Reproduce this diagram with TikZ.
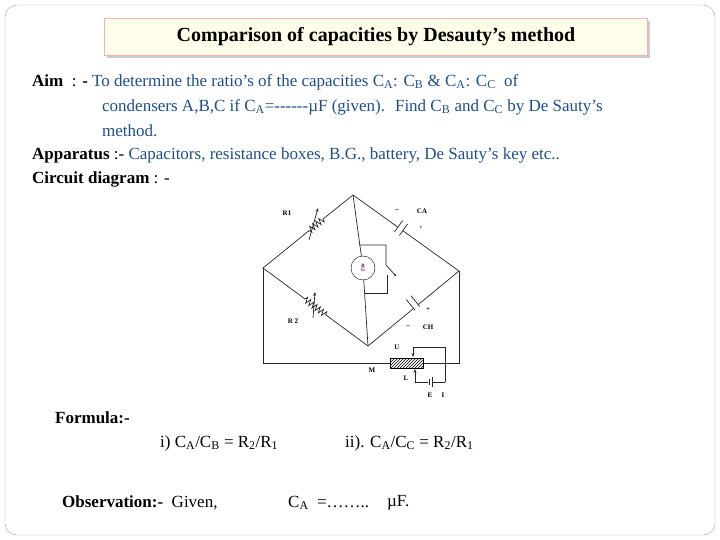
\documentclass[tikz,border=0pt]{standalone}
\usepackage{fontspec}
\setmainfont{Liberation Serif}
\usetikzlibrary{shadows,arrows.meta,patterns,decorations.pathmorphing}
\definecolor{tb}{RGB}{31,78,140}
\newcommand{\sbs}[1]{\textsubscript{#1}}
\begin{document}
\begin{tikzpicture}[x=1pt,y=-1pt,
  txt/.style={anchor=west,inner sep=0pt,font=\fontsize{17}{20}\selectfont},
  wire/.style={line width=0.7pt,black!85},
  lab/.style={font=\bfseries\scriptsize},
  zz/.style={wire,decorate,decoration={zigzag,segment length=4pt,amplitude=3pt}}]
\useasboundingbox (0,0) rectangle (720,540);
\draw[rounded corners=12pt,gray!70] (5,5) rectangle (715,535);
\node[draw=red!30,fill=yellow!8,drop shadow={opacity=0.4},minimum width=543pt,minimum height=37pt,font=\bfseries\fontsize{20}{23}\selectfont] (title) at (376,37) {Comparison of capacities by Desauty’s method};
\node[txt] (l1) at (32,82) {\textbf{Aim} \ : \textbf{-} \textcolor{tb}{To determine the ratio’s of the capacities C\sbs{A}: C\sbs{B} \& C\sbs{A}: C\sbs{C} \ of}};
\node[txt,text=tb] (l2) at (102,107) {condensers A,B,C if C\sbs{A}=-{}-{}-{}-{}-{}-µF (given). \ Find C\sbs{B} and C\sbs{C} by De Sauty’s};
\node[txt,text=tb] (l3) at (102,131) {method.};
\node[txt] (l4) at (32,155) {\textbf{Apparatus} :- \textcolor{tb}{Capacitors, resistance boxes, B.G., battery, De Sauty’s key etc..}};
\node[txt] (l5) at (32,179) {\textbf{Circuit diagram} : -};
\node[txt] (f0) at (55,418) {\textbf{Formula:-}};
\node[txt] (f1) at (160,443) {i) C\sbs{A}/C\sbs{B} = R\sbs{2}/R\sbs{1}};
\node[txt] (f2) at (345,443) {ii). C\sbs{A}/C\sbs{C} = R\sbs{2}/R\sbs{1}};
\node[txt] (o1) at (62,503) {\textbf{Observation:-} \ Given,};
\node[txt] (o2) at (288,503) {C\sbs{A} \ =……..};
\node[txt] (o3) at (387,503) {µF.};
% circuit
\coordinate (T) at (353,195); \coordinate (L) at (263,268);
\coordinate (R) at (459,271); \coordinate (B) at (368,346);
\coordinate (ra1) at (323,219); \coordinate (ra2) at (308,231.5);
\coordinate (rb1) at (305,299); \coordinate (rb2) at (326,315);
\draw[wire] (T) -- (ra1) (ra2) -- (L) -- (rb1) (rb2) -- (B) -- (R) -- (T);
\draw[zz] (ra1) -- (ra2);
\draw[zz] (rb1) -- (rb2);
% capacitors
\begin{scope}[rotate around={-35.6:(401,228)}]
 \fill[white] (398,220) rectangle (404,236);
 \draw[wire] (398,221)--(398,235) (404,221)--(404,235);
\end{scope}
\begin{scope}[rotate around={39.5:(413,303)}]
 \fill[white] (410,295) rectangle (416,311);
 \draw[wire] (410,296)--(410,310) (416,296)--(416,310);
\end{scope}
\draw[wire,-{Stealth[length=4pt]}] (309,240) -- (318,208);
\draw[wire,-{Stealth[length=4pt]}] (313,318) -- (315,292);
% galvanometer
\node[draw,circle,minimum size=24pt,fill=white,inner sep=0,font=\bfseries\tiny,text=violet!70!black,align=center] (G) at (363,268) {B\\[-2pt]G};
\draw[wire] (T) -- (G) -- (B);
\draw[wire] (359,245) -- (386,245) -- (386,265) -- (395,275);
\draw[wire] (365,293) -- (387,293) -- (387,275);
\fill (395,275) circle (1);
% outer
\node[draw,pattern=north east lines,minimum width=33pt,minimum height=10pt,inner sep=0] (K) at (407,363) {};
\draw[wire] (L) -- (263,363) -- (K.west);
\draw[wire] (K.east) -- (459,363) -- (R);
\draw[wire,-{Stealth[length=4pt]}] (445,382) -- (445,347) -- (413,347) -- (413,357);
\draw[wire] (445,382) -- (432,382) (428,382) -- (415,382);
\draw[wire] (432,377) -- (432,387) (429,379) -- (429,385);
\draw[wire,-{Stealth[length=4pt]}] (415,382) -- (415,369);
\node[lab] (r1) at (287,213) {R1}; \node[lab] (r2) at (293,321) {R 2};
\node[lab] (ca) at (422,211) {CA}; \node[lab] (cb) at (428,327) {CH};
\node[lab] at (397,211) {--}; \node[lab] at (421,228) {,};
\node[lab] at (428,310) {+}; \node[lab] at (408,327) {--};
\node[lab] at (397,347) {U}; \node[lab] at (372,370) {M};
\node[lab] at (406,378) {L}; \node[lab] at (430,395) {E}; \node[lab] at (443,395) {I};
\end{tikzpicture}
\end{document}
